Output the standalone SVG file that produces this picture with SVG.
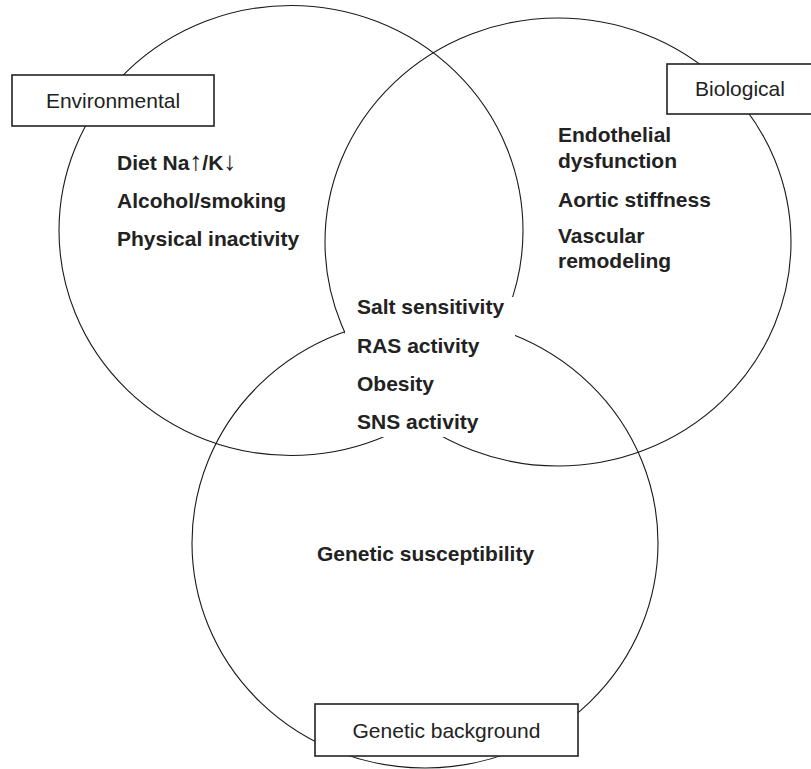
<svg xmlns="http://www.w3.org/2000/svg" width="811" height="769" viewBox="0 0 811 769">
<style>
.ring{fill:none;stroke:#1a1a1a;stroke-width:1.1}
.box{fill:#fff;stroke:#222;stroke-width:1.6}
.lab{font-family:"Liberation Sans",Arial,sans-serif;font-size:21px;fill:#222;text-anchor:middle}
.item{font-family:"Liberation Sans",Arial,sans-serif;font-size:21px;font-weight:bold;fill:#222}
.arr{font-size:26px;font-weight:normal}
</style>
<rect width="811" height="769" fill="#fff"/>
<g id="circles">
<ellipse id="circle-environmental" class="ring" cx="291" cy="230.5" rx="232" ry="225"/>
<ellipse id="circle-biological" class="ring" cx="558" cy="242" rx="233" ry="224"/>
<ellipse id="circle-genetic" class="ring" cx="425" cy="543" rx="233" ry="225"/>
</g>
<g id="connectors"></g>
<g id="center">
<rect x="345" y="297" width="170" height="140" fill="#fff"/>
<text class="item" x="357" y="314">Salt sensitivity</text>
<text class="item" x="357" y="353">RAS activity</text>
<text class="item" x="357" y="391">Obesity</text>
<text class="item" x="357" y="429">SNS activity</text>
</g>
<g id="environmental-items">
<text class="item" x="117" y="170">Diet Na<tspan class="arr">↑</tspan>/K<tspan class="arr">↓</tspan></text>
<text class="item" x="117" y="208">Alcohol/smoking</text>
<text class="item" x="117" y="246">Physical inactivity</text>
</g>
<g id="biological-items">
<text class="item" x="558" y="142">Endothelial</text>
<text class="item" x="558" y="168">dysfunction</text>
<text class="item" x="558" y="207">Aortic stiffness</text>
<text class="item" x="558" y="243">Vascular</text>
<text class="item" x="558" y="268">remodeling</text>
</g>
<g id="genetic-items">
<text class="item" x="317" y="561">Genetic susceptibility</text>
</g>
<g id="node-environmental">
<rect class="box" x="12" y="75" width="202" height="51"/>
<text class="lab" x="113" y="108">Environmental</text>
</g>
<g id="node-biological">
<rect class="box" x="667" y="64" width="150" height="50"/>
<text class="lab" x="740" y="96">Biological</text>
</g>
<g id="node-genetic">
<rect class="box" x="315" y="704" width="263" height="52"/>
<text class="lab" x="446.5" y="738">Genetic background</text>
</g>
</svg>
